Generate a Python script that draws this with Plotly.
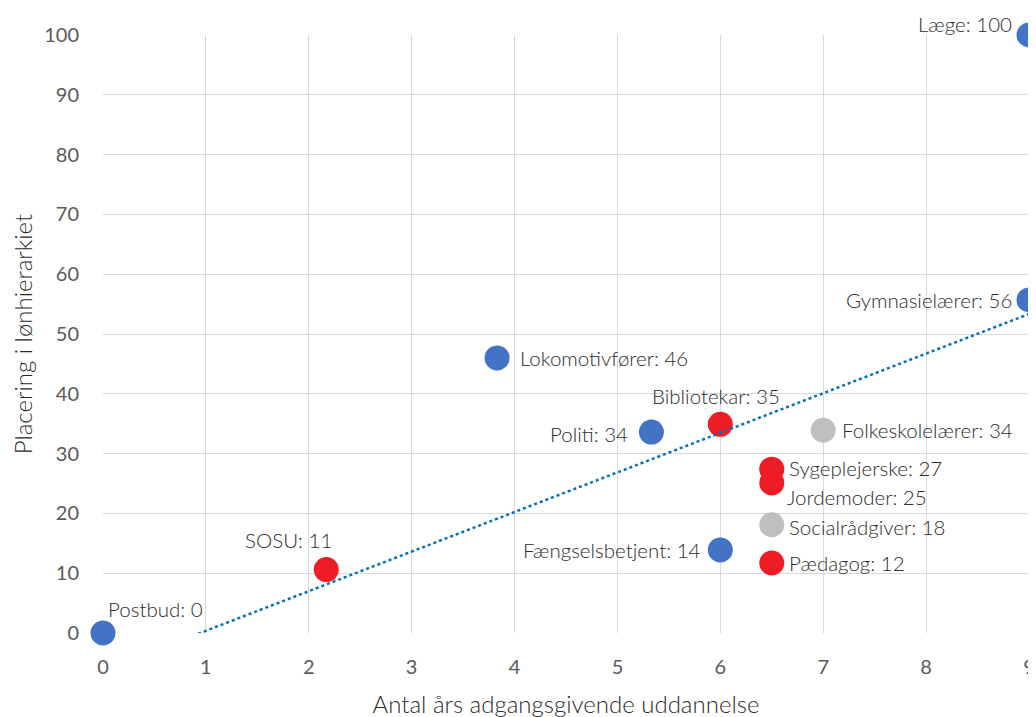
import numpy as np
import plotly.graph_objects as go

# ---- data ----
blue_names = ["Postbud", "Lokomotivfører", "Politi", "Fængselsbetjent", "Gymnasielærer", "Læge"]
blue_x = [0, 3.83, 5.33, 6, 9, 9]
blue_y = [0, 46.0, 33.6, 13.9, 55.7, 100]

red_names = ["SOSU", "Bibliotekar", "Sygeplejerske", "Jordemoder", "Pædagog"]
red_x = [2.17, 6, 6.5, 6.5, 6.5]
red_y = [10.6, 34.9, 27.4, 25.1, 11.7]

grey_names = ["Folkeskolelærer", "Socialrådgiver"]
grey_x = [7, 6.5]
grey_y = [33.9, 18.1]

x_ticks = list(range(0, 10))
y_ticks = list(range(0, 101, 10))

# label placement (style): name -> (xanchor, xshift, yshift)
label_pos = {
    "Postbud": ("left", 3, 24),
    "Lokomotivfører": ("left", 21, 0),
    "Politi": ("right", -21, -2),
    "Fængselsbetjent": ("right", -17, 0),
    "Gymnasielærer": ("right", -15, 0),
    "Læge": ("right", -15, 11),
    "SOSU": ("center", -38, 30),
    "Bibliotekar": ("center", -4, 28),
    "Sygeplejerske": ("left", 15, 1),
    "Jordemoder": ("left", 13, -14),
    "Pædagog": ("left", 15, 0),
    "Folkeskolelærer": ("left", 17, 0),
    "Socialrådgiver": ("left", 15, -2),
}

FONT = "Lato"
TXT = "#2b2b2b"

fig = go.Figure()

groups = [
    (blue_names, blue_x, blue_y, "#4472C4"),
    (red_names, red_x, red_y, "#EE1C25"),
    (grey_names, grey_x, grey_y, "#BFBFBF"),
]
for names, xs, ys, col in groups:
    fig.add_trace(go.Scatter(
        x=xs, y=ys, mode="markers",
        marker=dict(size=25, color=col, line=dict(width=0)),
        cliponaxis=False, showlegend=False, hoverinfo="skip",
    ))
    for n, xv, yv in zip(names, xs, ys):
        xa, xs_, ys_ = label_pos[n]
        fig.add_annotation(
            x=xv, y=yv, text=f"{n}: {int(np.floor(yv + 0.5))}",
            showarrow=False, xanchor=xa, yanchor="middle",
            xshift=xs_, yshift=ys_,
            font=dict(family=FONT, size=20.5, color=TXT, weight=300),
        )

# linear trendline over all points
all_x = np.array(blue_x + red_x + grey_x, dtype=float)
all_y = np.array(blue_y + red_y + grey_y, dtype=float)
slope, intercept = np.polyfit(all_x, all_y, 1)
tx = np.array([0.0, 9.0])
fig.add_trace(go.Scatter(
    x=tx, y=slope * tx + intercept, mode="lines",
    line=dict(color="#0070C0", width=2.5, dash="dot"),
    showlegend=False, hoverinfo="skip",
))

fig.update_xaxes(
    range=[0, 9], tickvals=x_ticks, showgrid=True, gridcolor="#D9D9D9", gridwidth=1,
    zeroline=False, showline=False, ticks="",
    tickfont=dict(family=FONT, size=20, color="#595959"), ticklabelstandoff=20,
    title=dict(text="Antal års adgangsgivende uddannelse",
               font=dict(family=FONT, size=24, color=TXT, weight=300), standoff=19),
)
fig.update_yaxes(
    range=[0, 100], tickvals=y_ticks, showgrid=True, gridcolor="#D9D9D9", gridwidth=1,
    zeroline=False, showline=False, ticks="",
    tickfont=dict(family=FONT, size=20, color="#595959"), ticklabelstandoff=23,
    title=dict(text="Placering i lønhierarkiet",
               font=dict(family=FONT, size=24, color=TXT, weight=300), standoff=14),
)
# page body adds an 8px offset; margins compensate so the plot area lands at the reference spot
fig.update_layout(
    width=1036, height=717,
    margin=dict(l=95, r=15, t=27, b=92, autoexpand=False),
    paper_bgcolor="white", plot_bgcolor="white",
    font=dict(family=FONT, color=TXT),
)
fig.write_html("out.html")
